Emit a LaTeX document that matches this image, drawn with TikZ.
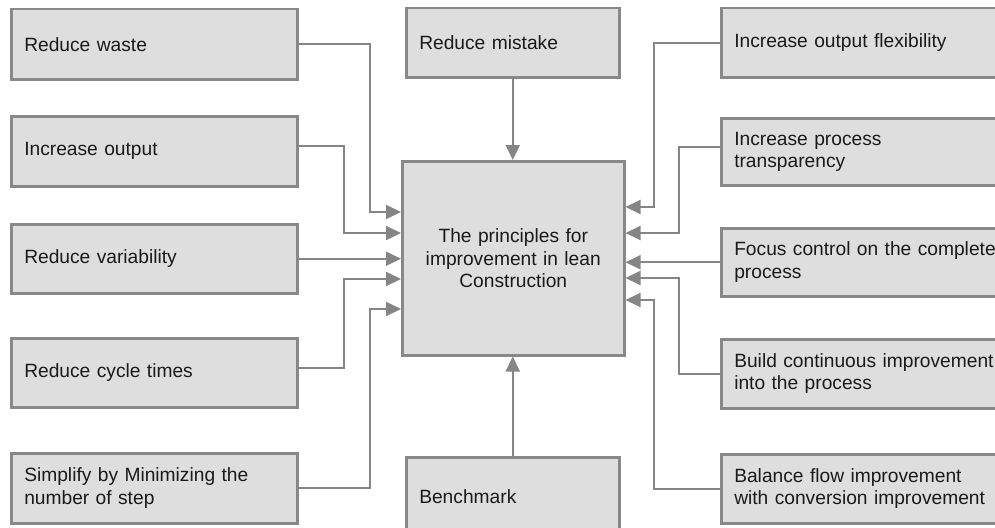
\documentclass[tikz,border=0pt]{standalone}
\usepackage{fontspec}
\setmainfont{Liberation Sans}
\usetikzlibrary{arrows.meta}
\definecolor{boxfill}{HTML}{DEDEDE}
\definecolor{boxline}{HTML}{888888}
\definecolor{connline}{HTML}{858585}
\definecolor{txt}{HTML}{1A1A1A}
\tikzset{
  box/.style={draw=boxline, fill=boxfill, line width=2.5pt, anchor=north west,
    inner xsep=13pt, inner ysep=0pt, align=left, text=txt,
    font=\fontsize{19.2}{22.5}\selectfont},
  conn/.style={draw=connline, line width=2pt,
    -{Triangle[length=15pt,width=14pt]}},
}
\begin{document}
\begin{tikzpicture}[x=1pt,y=-1pt]
\useasboundingbox (0,0) rectangle (995,527);
\clip (0,0) rectangle (995,527);
% left column
\node[box, minimum width=286pt, minimum height=70pt, text width=260pt] (w1) at (10,8) {Reduce waste};
\node[box, minimum width=286pt, minimum height=70pt, text width=260pt] (w2) at (10,115) {Increase output};
\node[box, minimum width=286pt, minimum height=69pt, text width=260pt] (w3) at (10,223) {Reduce variability};
\node[box, minimum width=286pt, minimum height=69pt, text width=260pt] (w4) at (10,337) {Reduce cycle times};
\node[box, minimum width=286pt, minimum height=70pt, text width=260pt] (w5) at (10,452) {Simplify by Minimizing the\\number of step};
% middle column
\node[box, minimum width=213pt, minimum height=69pt, text width=187pt] (top) at (405,7) {Reduce mistake};
\node[box, minimum width=222pt, minimum height=194pt, text width=196pt, align=center] (c) at (401,160) {The principles for\\improvement in lean\\Construction};
\node[box, minimum width=213pt, minimum height=78pt, text width=187pt] (bm) at (405,456) {Benchmark};
% right column
\node[box, minimum width=300pt, minimum height=69pt, text width=274pt] (e1) at (720,7) {Increase output flexibility};
\node[box, minimum width=300pt, minimum height=67pt, text width=274pt] (e2) at (720,117) {Increase process\\transparency};
\node[box, minimum width=300pt, minimum height=68pt, text width=274pt] (e3) at (720,227) {Focus control on the complete\\process};
\node[box, minimum width=300pt, minimum height=69pt, text width=274pt] (e4) at (720,338) {Build continuous improvement\\into the process};
\node[box, minimum width=300pt, minimum height=69pt, text width=274pt] (e5) at (720,453) {Balance flow improvement\\with conversion improvement};
% bend points
\coordinate (L1) at (370,212);
\coordinate (L2) at (344,233);
\coordinate (L4) at (344,279);
\coordinate (L5) at (370,309);
\coordinate (R1) at (654,207);
\coordinate (R2) at (679,233);
\coordinate (R4) at (679,278);
\coordinate (R5) at (654,300);
% connectors left
\draw[conn] (w1.east) -| (L1) -- (c.west |- L1);
\draw[conn] ([yshift=5pt]w2.east) -| (L2) -- (c.west |- L2);
\draw[conn] (w3.east) -- (c.west |- w3.east);
\draw[conn] ([yshift=5pt]w4.east) -| (L4) -- (c.west |- L4);
\draw[conn] (w5.east) -| (L5) -- (c.west |- L5);
% connectors right
\draw[conn] (e1.west) -| (R1) -- (c.east |- R1);
\draw[conn] ([yshift=5pt]e2.west) -| (R2) -- (c.east |- R2);
\draw[conn] (e3.west) -- (c.east |- e3.west);
\draw[conn] (e4.west) -| (R4) -- (c.east |- R4);
\draw[conn] (e5.west) -| (R5) -- (c.east |- R5);
% vertical connectors
\draw[conn] (top.south) -- (top.south |- c.north);
\draw[conn] (bm.north) -- (bm.north |- c.south);
\end{tikzpicture}
\end{document}
